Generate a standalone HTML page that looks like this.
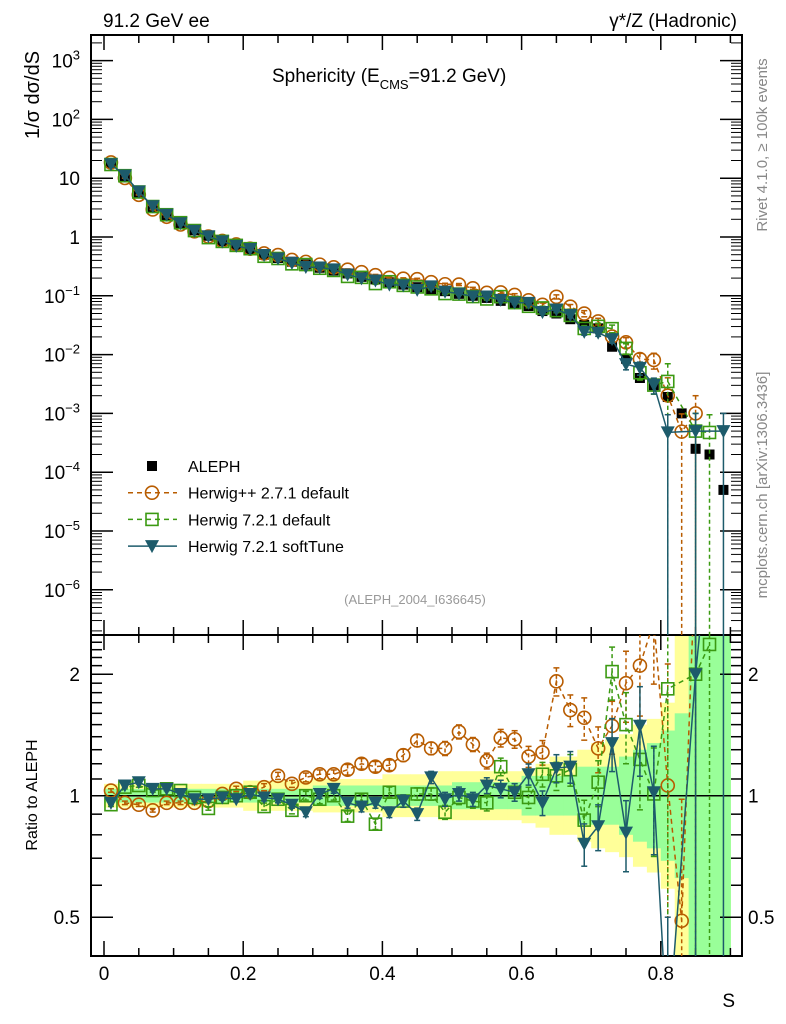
<!DOCTYPE html>
<html><head><meta charset="utf-8"><style>
html,body{margin:0;padding:0;background:#fff;overflow:hidden;width:786px;height:1024px;}
svg{display:block;font-family:"Liberation Sans",sans-serif;}
</style></head><body>
<svg id="chart" width="786" height="1024" viewBox="0 0 786 1024" xmlns="http://www.w3.org/2000/svg">
<defs>
<clipPath id="cm"><rect x="91" y="35" width="651" height="600"/></clipPath>
<clipPath id="cr"><rect x="91" y="635" width="651" height="321"/></clipPath>
</defs>
<text x="103" y="27" font-size="19">91.2 GeV ee</text>
<text x="737" y="27" font-size="19" text-anchor="end">γ*/Z (Hadronic)</text>
<text x="272" y="82" font-size="19">Sphericity (E<tspan font-size="13" dy="7">CMS</tspan><tspan dy="-7">=91.2 GeV)</tspan></text>
<text transform="translate(767,145) rotate(-90)" font-size="15" fill="#888" text-anchor="middle">Rivet 4.1.0, ≥ 100k events</text>
<text transform="translate(767,485) rotate(-90)" font-size="15" fill="#888" text-anchor="middle">mcplots.cern.ch [arXiv:1306.3436]</text>
<text x="415" y="604" font-size="13" fill="#999" text-anchor="middle">(ALEPH_2004_I636645)</text>
<text transform="translate(39,95) rotate(-90)" font-size="20" text-anchor="middle">1/σ  dσ/dS</text>
<text transform="translate(37,795) rotate(-90)" font-size="16" text-anchor="middle">Ratio to ALEPH</text>
<text x="735" y="1007" font-size="19" text-anchor="end">S</text>
<g id="bands" clip-path="url(#cr)"></g>
<g id="axes"></g>
<g id="mainG" clip-path="url(#cm)"></g>
<g id="ratioG" clip-path="url(#cr)"></g>
<g id="legend"></g>
</svg>
<script>
const sBins=[0.01,0.03,0.05,0.07,0.09,0.11,0.13,0.15,0.17,0.19,0.21,0.23,0.25,0.27,0.29,0.31,0.33,0.35,0.37,0.39,0.41,0.43,0.45,0.47,0.49,0.51,0.53,0.55,0.57,0.59,0.61,0.63,0.65,0.67,0.69,0.71,0.73,0.75,0.77,0.79,0.81,0.83,0.85,0.87,0.89];
const alephVals=[18,10.5,5.5,3.2,2.3,1.7,1.3,1.05,0.85,0.72,0.62,0.5,0.44,0.38,0.34,0.3,0.27,0.24,0.21,0.19,0.17,0.155,0.14,0.13,0.12,0.108,0.1,0.092,0.082,0.075,0.067,0.055,0.05,0.04,0.032,0.028,0.0136,0.0085,0.004,0.003,0.0019,0.001,0.00025,0.0002,0.00005];
const ratioHpp=[1.03,0.96,0.95,0.92,0.96,0.96,0.96,0.97,1.01,1.04,1.02,1.05,1.12,1.07,1.11,1.13,1.13,1.16,1.2,1.18,1.19,1.26,1.37,1.31,1.31,1.44,1.34,1.22,1.39,1.38,1.25,1.28,1.92,1.63,1.56,1.31,1.49,1.9,2.1,2.7,1.06,0.49,4,null,null];
const ratioH7=[0.95,1.05,1.06,1.03,1.04,1.03,0.99,0.93,0.99,1.0,1.02,0.94,0.98,0.92,1.0,0.98,1.0,0.89,0.98,0.85,1.02,0.97,1.01,1.01,0.91,0.99,0.97,0.96,1.18,1.02,0.99,1.13,1.12,1.16,0.87,1.08,2.03,1.5,1.23,1.01,1.84,null,2.0,2.37,null];
const ratioSoft=[0.96,1.06,1.08,1.04,1.04,1.01,0.98,0.98,0.99,0.98,1.01,0.99,0.98,0.95,0.91,1.01,1.04,0.96,0.94,0.96,0.91,0.97,0.9,1.11,0.98,1.01,0.98,1.06,1.04,1.02,1.13,0.96,1.17,1.18,0.76,0.84,1.35,0.81,1.49,1.02,0.25,null,2.0,null,10];
const relErr=[0.01,0.01,0.01,0.01,0.01,0.01,0.01,0.01,0.015,0.015,0.015,0.02,0.02,0.02,0.025,0.025,0.025,0.03,0.03,0.03,0.03,0.035,0.035,0.035,0.04,0.04,0.04,0.045,0.05,0.05,0.06,0.07,0.08,0.09,0.12,0.13,0.15,0.2,0.25,0.3,1,1,1,1,1];
const yellowHi=[1.07,1.07,1.07,1.07,1.07,1.07,1.07,1.07,1.07,1.07,1.09,1.09,1.09,1.09,1.09,1.1,1.1,1.1,1.1,1.1,1.13,1.13,1.13,1.13,1.15,1.15,1.15,1.15,1.15,1.15,1.17,1.2,1.25,1.25,1.3,1.35,1.38,1.42,1.5,1.55,1.7,3,3,3,3];
const greenHi=[1.04,1.04,1.04,1.04,1.04,1.04,1.04,1.04,1.04,1.04,1.04,1.04,1.04,1.04,1.04,1.06,1.06,1.06,1.06,1.06,1.06,1.06,1.06,1.06,1.06,1.08,1.08,1.08,1.08,1.08,1.12,1.12,1.12,1.12,1.18,1.18,1.18,1.25,1.3,1.35,1.45,1.6,3,3,3];
const xTicks=[0,0.2,0.4,0.6,0.8];
const xTickLabels=["0","0.2","0.4","0.6","0.8"];
const yDecades=[3,2,1,0,-1,-2,-3,-4,-5,-6];
const rTicks=[0.5,1,2];
const rTickLabels=["0.5","1","2"];

const NS="http://www.w3.org/2000/svg";
const X=s=>104+696*s;
const YM=v=>237-58.8*Math.log10(v);
const YR=r=>795.7-121.5*Math.log2(r);
function mk(tag,attrs,parent){const e=document.createElementNS(NS,tag);for(const k in attrs)e.setAttribute(k,attrs[k]);parent.appendChild(e);return e;}
const axes=document.getElementById('axes'),mainG=document.getElementById('mainG'),ratioG=document.getElementById('ratioG'),bands=document.getElementById('bands'),legend=document.getElementById('legend');
const HW=0.01;
sBins.forEach((s,i)=>{
  let r=mk('rect',{x:X(s-HW),y:YR(yellowHi[i]),width:X(s+HW)-X(s-HW)+0.5,height:YR(1/yellowHi[i])-YR(yellowHi[i]),fill:'#ffff99'},bands);
  
  
});
sBins.forEach((s,i)=>{
  let r=mk('rect',{x:X(s-HW),y:YR(greenHi[i]),width:X(s+HW)-X(s-HW)+0.5,height:YR(1/greenHi[i])-YR(greenHi[i]),fill:'#99ff99'},bands);
  
  
});
[[35,635],[635,956]].forEach(([t,b])=>{
  let f=mk('rect',{x:91,y:t,width:651,height:b-t,fill:'none',stroke:'#000','stroke-width':2},axes);
  
  
  for(let k=0;k<=18;k++){const s=k*0.05;const xx=X(s);if(xx>742)break;const major=(k%4===0);const L=major?15:8;
    mk('line',{x1:xx,x2:xx,y1:t,y2:t+L,stroke:'#000','stroke-width':1.5},axes);
    mk('line',{x1:xx,x2:xx,y1:b,y2:b-L,stroke:'#000','stroke-width':1.5},axes);}
});
mk('line',{x1:91,x2:742,y1:YR(1),y2:YR(1),stroke:'#000','stroke-width':1.5},ratioG);
xTicks.forEach((s,i)=>{let t=mk('text',{x:X(s),y:980,'font-size':19,'text-anchor':'middle'},axes);t.textContent=xTickLabels[i];
  
  });
yDecades.forEach(d=>{const yy=YM(Math.pow(10,d));
  mk('line',{x1:91,x2:113,y1:yy,y2:yy,stroke:'#000','stroke-width':1.5},axes);
  mk('line',{x1:742,x2:720,y1:yy,y2:yy,stroke:'#000','stroke-width':1.5},axes);
  for(let m=2;m<=9;m++){const ym=YM(m*Math.pow(10,d));if(ym<35)continue;
    mk('line',{x1:91,x2:102,y1:ym,y2:ym,stroke:'#000','stroke-width':1},axes);
    mk('line',{x1:742,x2:731,y1:ym,y2:ym,stroke:'#000','stroke-width':1},axes);}
  const t=mk('text',{x:80,y:yy+7,'font-size':19,'text-anchor':'end'},axes);
  
  
  if(d===1)t.textContent='10';else if(d===0)t.textContent='1';
  else{t.textContent='10';const sp=mk('tspan',{'font-size':13,dy:-8},t);sp.textContent=(d<0?'−':'')+Math.abs(d);}
});
for(let m=2;m<=9;m++){const ym=YM(m*1e-7);if(ym<635){mk('line',{x1:91,x2:102,y1:ym,y2:ym,stroke:'#000','stroke-width':1},axes);mk('line',{x1:742,x2:731,y1:ym,y2:ym,stroke:'#000','stroke-width':1},axes);}}
[0.4,0.5,0.6,0.7,0.8,0.9,1,1.1,1.2,1.3,1.4,1.5,1.6,1.7,1.8,1.9,2,2.1,2.2,2.3,2.4,2.5].forEach(r=>{const yy=YR(r);if(yy<636||yy>955)return;
  const major=rTicks.includes(r);const L=major?22:11;
  mk('line',{x1:91,x2:91+L,y1:yy,y2:yy,stroke:'#000','stroke-width':1.5},axes);
  mk('line',{x1:742,x2:742-L,y1:yy,y2:yy,stroke:'#000','stroke-width':1.5},axes);});
rTicks.forEach((r,i)=>{const yy=YR(r);
  let t=mk('text',{x:80,y:yy+7,'font-size':19,'text-anchor':'end'},axes);t.textContent=rTickLabels[i];
  
  
  let t2=mk('text',{x:748,y:yy+7,'font-size':19},axes);t2.textContent=rTickLabels[i];
  
  });

function marker(type,cx,cy,color,g){
  let e;
  if(type==='sq')e=mk('rect',{x:cx-5,y:cy-5,width:10,height:10,fill:'#000'},g);
  else if(type==='circ')e=mk('circle',{cx:cx,cy:cy,r:6.5,fill:'none',stroke:color,'stroke-width':1.6},g);
  else if(type==='osq')e=mk('rect',{x:cx-6,y:cy-6,width:12,height:12,fill:'none',stroke:color,'stroke-width':1.6},g);
  else e=mk('path',{d:`M${cx-7},${cy-6}L${cx+7},${cy-6}L${cx},${cy+7}Z`,fill:color},g);
  return e;
}
const series=[
 {name:'herwigpp-271-default',r:ratioHpp,color:'#b85c00',type:'circ',dash:'5,4'},
 {name:'herwig-721-default',r:ratioH7,color:'#3b9a12',type:'osq',dash:'5,4'},
 {name:'herwig-721-softtune',r:ratioSoft,color:'#1d5b6b',type:'tri',dash:null}
];
function drawSeries(sr,g,Yf,valf,bottom){
  let pts=[];
  sr.r.forEach((r,i)=>{if(r==null)return;const v=valf(i,r);pts.push([X(sBins[i]),Yf(v)]);});
  let p=mk('polyline',{points:pts.map(p=>p.join(',')).join(' '),fill:'none',stroke:sr.color,'stroke-width':1.5},g);
  if(sr.dash)p.setAttribute('stroke-dasharray',sr.dash);
  
  
  sr.r.forEach((r,i)=>{if(r==null)return;const v=valf(i,r);const e=relErr[i];
    const cx=X(sBins[i]),cy=Yf(v);
    const hi=Yf(v*(1+e)),lo=e>=1?bottom:Yf(v*(1-e));
    const eb=mk('line',{x1:cx,x2:cx,y1:hi,y2:lo,stroke:sr.color,'stroke-width':1.5},g);
    if(sr.dash)eb.setAttribute('stroke-dasharray','4,3');
    
    
    mk('line',{x1:cx-3,x2:cx+3,y1:hi,y2:hi,stroke:sr.color,'stroke-width':1.5},g);
    if(e<1)mk('line',{x1:cx-3,x2:cx+3,y1:lo,y2:lo,stroke:sr.color,'stroke-width':1.5},g);
    const m=marker(sr.type,cx,cy,sr.color,g);
    
    
  });
}
sBins.forEach((s,i)=>{const m=marker('sq',X(s),YM(alephVals[i]),'#000',mainG);
  
  });
series.forEach(sr=>{
  drawSeries(sr,mainG,YM,(i,r)=>alephVals[i]*r,635);
  drawSeries(sr,ratioG,YR,(i,r)=>r,956);
});
const lg=[{t:'ALEPH',type:'sq',color:'#000',dash:null,line:false},
 {t:'Herwig++ 2.7.1 default',type:'circ',color:'#b85c00',dash:'5,4',line:true},
 {t:'Herwig 7.2.1 default',type:'osq',color:'#3b9a12',dash:'5,4',line:true},
 {t:'Herwig 7.2.1 softTune',type:'tri',color:'#1d5b6b',dash:null,line:true}];
lg.forEach((l,i)=>{const y=466+26.7*i;
  const g=mk('g',{},legend);
  
  
  if(l.line){const ln=mk('line',{x1:128,x2:177,y1:y,y2:y,stroke:l.color,'stroke-width':1.5},g);if(l.dash)ln.setAttribute('stroke-dasharray',l.dash);}
  marker(l.type,152,y,l.color,g);
  const t=mk('text',{x:188,y:y+6,'font-size':16},g);t.textContent=l.t;
});
</script>
</body></html>
